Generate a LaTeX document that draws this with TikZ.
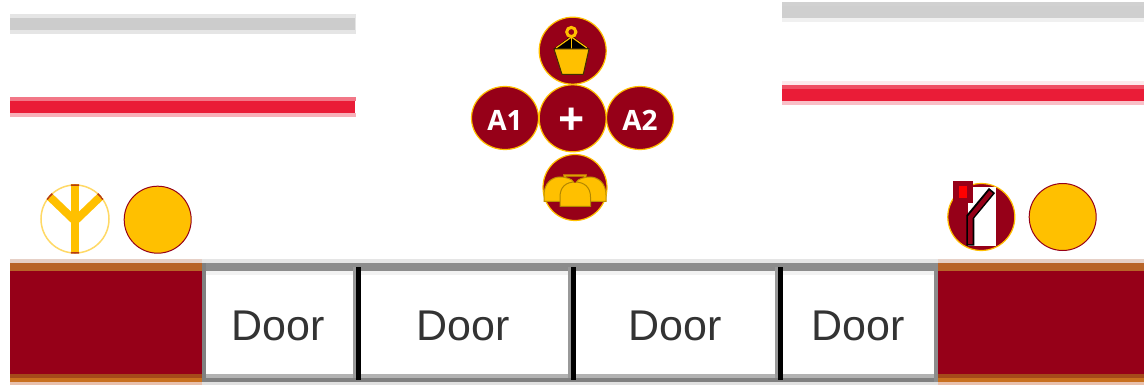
\documentclass[tikz,border=0pt]{standalone}
\usepackage{fontspec}
\usetikzlibrary{shapes.geometric}
\setmainfont{Liberation Sans}
\newfontfamily\lblfont{Open Sans}
\definecolor{maroon}{HTML}{960018}
\definecolor{amber}{HTML}{FFC000}
\definecolor{barred}{HTML}{EA1C37}
\definecolor{edgeA}{HTML}{B86428}
\definecolor{edgeB}{HTML}{A54A1A}
\definecolor{edgeC}{HTML}{C8701F}
\definecolor{edgeD}{HTML}{E8C0AC}
\definecolor{edgeE}{HTML}{E6D0C6}
\tikzset{
  band/.style={fill=#1,draw=none},
  disc/.style={ellipse,draw=amber,fill=maroon,line width=1.2pt,inner sep=0pt,minimum width=67pt,minimum height=67pt},
  ydisc/.style={circle,draw=maroon,fill=amber,line width=1pt,inner sep=0pt,minimum size=67pt},
  lettering/.style={text=white,font=\lblfont\fontsize{28}{28}\selectfont\bfseries,inner sep=0pt},
  doorlabel/.style={text=black!80,font=\fontsize{43}{43}\selectfont,inner sep=0pt},
  outl/.style={draw=#1,line width=1pt,fill=amber},
}
\begin{document}
\begin{tikzpicture}[x=1pt,y=-1pt]
\useasboundingbox[fill=white] (0,0) rectangle (1144,385);
% upper bars left
\fill[band={black!10}] (10,14) rectangle (356,34);
\fill[band={black!20}] (10,18) rectangle (355,30);
\fill[band={barred!60}] (10,97) rectangle (356,101);
\fill[band={barred!35}] (10,113) rectangle (356,117);
\fill[band=barred] (10,101) rectangle (355,113);
% upper bars right
\fill[band={black!18}] (782,2) rectangle (1144,6);
\fill[band={black!6}] (782,18) rectangle (1144,22);
\fill[band={black!19}] (782,6) rectangle (1144,18);
\fill[band={barred!10}] (782,81) rectangle (1144,85);
\fill[band={barred!78}] (782,85) rectangle (1144,89);
\fill[band={barred!28}] (782,101) rectangle (1144,105);
\fill[band=barred] (782,89) rectangle (1144,101);
% door strip
\fill[band={black!10}] (202,259) rectangle (938,263);
\fill[band={black!45}] (202,263) rectangle (938,271);
\fill[band={black!5}] (205,271) rectangle (935,275);
\fill[band={black!30}] (202,374) rectangle (938,378);
\fill[band={black!50}] (202,378) rectangle (938,382);
\fill[band={black!12}] (202,382) rectangle (938,385);
% dividers
\foreach \a in {353,568,775}{
  \fill[band={black!40}] (\a,267) rectangle ++(3,111);
  \fill[band=black] (\a+3,267) rectangle ++(5,113);
}
\fill[band={black!50}] (202,263) rectangle (206,382);
\fill[band={black!45}] (934,263) rectangle (938,382);
% maroon blocks
\foreach \l/\r in {10/202,938/1144}{
  \fill[band=edgeE] (\l,259) rectangle (\r,263);
  \fill[band=edgeA] (\l,263) rectangle (\r,271);
  \fill[band=maroon] (\l,271) rectangle (\r,374);
  \fill[band=edgeB] (\l,374) rectangle (\r,378);
  \fill[band=edgeC] (\l,378) rectangle (\r,382);
  \fill[band=edgeD] (\l,382) rectangle (\r,385);
}
\node[doorlabel] (d1) at (278,326) {Door};
\node[doorlabel] (d2) at (463,326) {Door};
\node[doorlabel] (d3) at (675,326) {Door};
\node[doorlabel] (d4) at (858,326) {Door};
% control cluster
\node[disc] (top) at (572.7,50.7) {};
\node[disc] (mid) at (572.7,118.3) {};
\node[disc,minimum height=63pt] (a1) at (505,118) {};
\node[disc,minimum height=63pt] (a2) at (640,118) {};
\node[disc,minimum width=64pt,minimum height=66pt] (bot) at (575,187.5) {};
\node[lettering] at (505,120.5) {A1};
\node[lettering] at (640,120.5) {A2};
\node[text=white,font=\lblfont\fontsize{46}{46}\selectfont\bfseries,inner sep=0pt] (plus) at (572,122) {+};
% bucket icon
\draw[draw=black,fill=black,line width=.8pt,line join=round] (554,49) -- (571.5,36) -- (589,49) -- cycle;
\draw[amber,line width=1.2pt] (556,48) -- (571.5,37) -- (587,48);
\draw[amber,line width=1.6pt] (571.5,37) -- (571.5,49);
\draw[draw=black!75!amber,fill=amber,line width=1pt,line join=round] (554,49) -- (589,49) -- (583.3,74.3) -- (562,74.3) -- cycle;
\draw[amber,line width=3pt,fill=maroon] (571.3,32) circle (4.6);
% helmet icon
\draw[draw=amber!85!black,line width=2.2pt] (564.5,175.5) arc (180:0:10.5) -- cycle;
\draw[outl={amber!75!black}] (544,201.5) -- (544,195) .. controls (544,183) and (552,177) .. (560,177) .. controls (566,177) and (572,179) .. (574,182) -- (574,201.5) -- cycle;
\draw[outl={amber!75!black}] (606,201.5) -- (606,195) .. controls (606,183) and (598,177) .. (590,177) .. controls (584,177) and (578,179) .. (576,182) -- (576,201.5) -- cycle;
\draw[outl={amber!70!black}] (560,206.5) -- (560,197) .. controls (560,187) and (566,182) .. (575,182) .. controls (584,182) and (590.5,187) .. (590.5,197) -- (590.5,206.5) -- cycle;
\fill[maroon] (571.5,178) -- (578.5,178) -- (575,183) -- cycle;
% left pair
\node[circle,draw=amber!60!white,fill=white,line width=1.5pt,inner sep=0pt,minimum size=68pt] (yc) at (75,219) {};
\draw[amber,line width=8.5pt] (75,184.5) -- (75,253);
\draw[amber,line width=8pt,line join=round] (50,197) -- (75,221) -- (100,197);
\begin{scope}
  \clip (75,219) circle (34.8);
  \draw[maroon!70!amber,line width=1.5pt] (75,219) ++(83:34) arc (83:97:34);
  \draw[maroon!70!amber,line width=1.5pt] (75,219) ++(263:34) arc (263:277:34);
  \draw[maroon!70!amber,line width=1.5pt] (75,219) ++(-35:34) arc (-35:-48:34);
  \draw[maroon!70!amber,line width=1.5pt] (75,219) ++(-132:34) arc (-132:-145:34);
\end{scope}
\node[ydisc] (yl) at (157.7,219.7) {};
% right pair
\node[disc] (lever) at (981.3,217) {};
\fill[white] (967.7,186.7) rectangle (996,246);
\fill[maroon] (953.3,180.7) rectangle (972.7,202.7);
\fill[red] (959,186) rectangle (966.7,198.3);
\draw[black,line width=8pt,line join=miter] (970.3,245.5) -- (970.3,216.7) -- (992,190.5);
\draw[maroon,line width=4.5pt,line join=miter] (970.3,244) -- (970.3,217.2) -- (991,192);
\node[ydisc] (yr) at (1062.7,217) {};
\end{tikzpicture}
\end{document}
